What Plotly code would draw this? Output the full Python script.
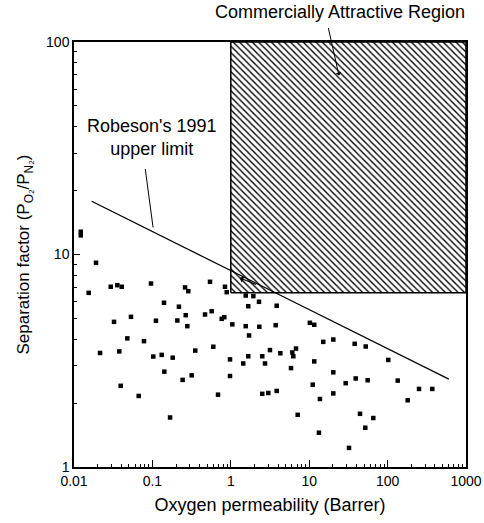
import math
import plotly.graph_objects as go

# ---- data ----
perm_o2 = [0.0122, 0.0122, 0.0191, 0.0154, 0.0294, 0.0357, 0.0406, 0.096, 0.261, 0.287,
           0.1406, 0.218, 0.266, 0.279, 0.0324, 0.0533, 0.111, 0.208, 0.0479, 0.0781,
           0.0215, 0.0378, 0.1026, 0.1314, 0.1815, 0.352, 0.142, 0.243, 0.317, 0.0394,
           0.0669, 0.168,
           0.543, 0.843, 0.887, 1.55, 1.94, 2.29, 1.67, 3.85, 0.469, 0.570,
           0.766, 0.826, 1.045, 1.55, 2.31, 3.74, 10.2, 11.6, 1.71, 0.598,
           0.977, 1.44, 1.67, 2.52, 2.73, 3.16, 4.28, 6.09, 6.79, 6.27,
           5.86, 15.1, 20.3, 11.6, 20.3, 0.977, 0.687, 2.52, 3.01, 3.85,
           11.1, 13.7, 20.3, 7.13, 13.3,
           38.0, 52.6, 102, 29.2, 39.2, 55.7, 134.6, 251.6, 371.5, 180.4,
           44.5, 65.7, 51.9, 32.2]
sep_factor = [12.8, 12.3, 9.14, 6.6, 7.05, 7.17, 7.05, 7.3, 7.0, 6.72,
              5.93, 5.68, 5.18, 4.6, 4.82, 5.09, 4.88, 4.89, 4.03, 3.91,
              3.44, 3.50, 3.31, 3.37, 3.27, 3.53, 2.81, 2.57, 2.70, 2.41,
              2.16, 1.71,
              7.44, 7.05, 6.65, 6.41, 6.37, 5.99, 5.71, 5.74, 5.22, 5.41,
              4.98, 5.07, 4.69, 4.60, 4.57, 4.65, 4.77, 4.67, 4.16, 3.68,
              3.21, 3.07, 3.32, 3.32, 3.07, 3.55, 3.43, 3.46, 3.61, 3.32,
              2.92, 3.88, 3.98, 3.14, 2.79, 2.68, 2.19, 2.21, 2.23, 2.28,
              2.44, 2.09, 2.22, 1.76, 1.45,
              3.80, 3.69, 3.19, 2.48, 2.61, 2.56, 2.55, 2.33, 2.33, 2.06,
              1.78, 1.70, 1.53, 1.23]

robeson_x = [0.0168, 604]
robeson_y = [17.8, 2.59]

region_x = [1, 1000, 1000, 1, 1]
region_y = [6.6, 6.6, 100, 100, 6.6]

x_tickvals = [0.01, 0.1, 1, 10, 100, 1000]
x_ticktext = ["0.01", "0.1", "1", "10", "100", "1000"]
y_tickvals = [1, 10, 100]
y_ticktext = ["1", "10", "100"]

x_minor = [m * 10 ** e for e in range(-2, 3) for m in range(2, 10)]
y_minor = [m * 10 ** e for e in range(0, 2) for m in range(2, 10)]

FONT = "Liberation Sans, Arial, sans-serif"

fig = go.Figure()

fig.add_trace(go.Scatter(
    x=region_x, y=region_y, mode="lines", fill="toself",
    line=dict(color="black", width=1.5),
    fillcolor="rgba(255,255,255,0)",
    fillpattern=dict(shape="\\", size=4.5, solidity=0.3, fgcolor="black",
                     bgcolor="white", fillmode="replace"),
    hoverinfo="skip", showlegend=False))

fig.add_trace(go.Scatter(
    x=robeson_x, y=robeson_y, mode="lines",
    line=dict(color="black", width=1.3), showlegend=False))

fig.add_trace(go.Scatter(
    x=perm_o2, y=sep_factor, mode="markers",
    marker=dict(symbol="square", size=4.5, color="black"),
    showlegend=False))

fig.update_xaxes(
    type="log", range=[-2, 3], tickmode="array", tickvals=x_tickvals, ticktext=x_ticktext,
    ticks="inside", ticklen=7, tickwidth=1, tickcolor="black",
    minor=dict(tickmode="array", tickvals=x_minor, ticks="inside", ticklen=3,
               tickwidth=1, tickcolor="black", showgrid=False),
    showline=True, linecolor="black", linewidth=1.5, mirror=True,
    showgrid=False, zeroline=False, automargin=False,
    tickfont=dict(family=FONT, size=14, color="black"),
    title=dict(text="Oxygen permeability (Barrer)",
               font=dict(family=FONT, size=18, color="black"), standoff=11))

fig.update_yaxes(
    type="log", range=[0, 2], tickmode="array", tickvals=y_tickvals, ticktext=y_ticktext,
    ticks="inside", ticklen=6, tickwidth=1, tickcolor="black",
    minor=dict(tickmode="array", tickvals=y_minor, ticks="inside", ticklen=3,
               tickwidth=1, tickcolor="black", showgrid=False),
    showline=True, linecolor="black", linewidth=1.5, mirror=True,
    showgrid=False, zeroline=False, automargin=False,
    tickfont=dict(family=FONT, size=14, color="black"),
    title=dict(text="Separation factor (P<sub>O₂</sub>/P<sub>N₂</sub>)",
               font=dict(family=FONT, size=17, color="black"), standoff=12))

# plot area in page pixels: x 74..466, y 42..467
annotations = [
    dict(text="Commercially Attractive Region", xref="paper", yref="paper",
         x=(340 - 74) / 392, y=(467 - 12) / 425, xanchor="center", yanchor="middle",
         showarrow=False, font=dict(family=FONT, size=18, color="black")),
    dict(text="", x=math.log10(24), y=math.log10(69.5), xref="x", yref="y",
         showarrow=True, ax=-11, ay=-49, arrowhead=1, arrowsize=1, arrowwidth=1,
         arrowcolor="black"),
    dict(text="Robeson's 1991<br>upper limit", xref="paper", yref="paper",
         x=(152 - 74) / 392, y=(467 - 137) / 425, xanchor="center", yanchor="middle",
         showarrow=False, font=dict(family=FONT, size=18, color="black")),
    dict(text="", x=math.log10(0.102), y=math.log10(13.4), xref="x", yref="y",
         showarrow=True, ax=-8, ay=-60, arrowhead=0, arrowwidth=1, arrowcolor="black"),
    dict(text="", x=math.log10(1.3), y=math.log10(7.75), xref="x", yref="y",
         showarrow=True, ax=18, ay=7, arrowhead=1, arrowsize=1, arrowwidth=1.2,
         arrowcolor="black"),
]

fig.update_layout(
    width=484, height=523, autosize=False,
    margin=dict(l=74, r=18, t=42, b=56),
    paper_bgcolor="white", plot_bgcolor="white",
    font=dict(family=FONT, color="black"),
    annotations=annotations, showlegend=False)

fig.write_html("out.html", config={"displayModeBar": False},
               post_script="document.body.style.margin='0';document.body.style.overflow='hidden';")
